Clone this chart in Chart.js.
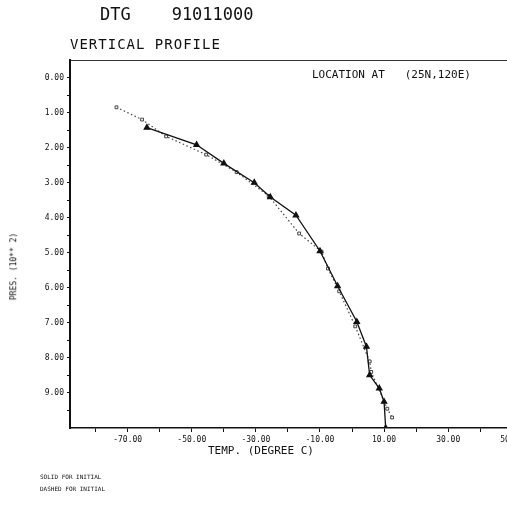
<!DOCTYPE html>
<html>
<head>
<meta charset="utf-8">
<script src="https://cdn.jsdelivr.net/npm/chart.js@4"></script>
<style>
  body { margin: 0; background: #fff; overflow: hidden; }
  #wrap { position: relative; width: 540px; height: 505px; }
  .txt { position: absolute; font-family: "DejaVu Sans Mono", monospace; color: #111; white-space: pre; }
</style>
</head>
<body>
<div id="wrap">
  <canvas id="profile" width="540" height="505"></canvas>
  <div class="txt" style="left:100px;top:4px;font-size:17px;">DTG    91011000</div>
  <div class="txt" style="left:70px;top:36px;font-size:14px;letter-spacing:1px;">VERTICAL PROFILE</div>
  <div class="txt" style="left:312px;top:68px;font-size:11px;">LOCATION AT   (25N,120E)</div>
  <div class="txt" style="left:208px;top:444px;font-size:11px;">TEMP. (DEGREE C)</div>
  <div class="txt" style="left:-20px;top:262px;font-size:8px;transform:rotate(-90deg);">PRES. (10** 2)</div>
  <div class="txt" style="left:40px;top:473px;font-size:6px;">SOLID FOR INITIAL</div>
  <div class="txt" style="left:40px;top:485px;font-size:6px;">DASHED FOR INITIAL</div>
</div>
<script>
// temperature (deg C) vs pressure (10**2 hPa)
var solidTemp = [-64, -48.5, -40, -30.5, -25.5, -17.5, -10, -4.5, 1.5, 4.5, 5.5, 8.5, 10, 10.5];
var solidPres = [1.43, 1.92, 2.45, 3.0, 3.41, 3.93, 4.95, 5.95, 6.97, 7.68, 8.49, 8.87, 9.25, 10.0];

var dashTemp = [-73.5, -65.5, -58, -45.5, -36, -26, -16.5, -9.5, -7.5, -4, 1, 5.5, 6, 11, 12.5];
var dashPres = [0.85, 1.2, 1.68, 2.2, 2.7, 3.38, 4.45, 4.97, 5.45, 6.1, 7.1, 8.1, 8.4, 9.45, 9.7];

var xTicks = [-80, -70, -60, -50, -40, -30, -20, -10, 0, 10, 20, 30, 40, 50];
var yTicks = [0, 0.5, 1, 1.5, 2, 2.5, 3, 3.5, 4, 4.5, 5, 5.5, 6, 6.5, 7, 7.5, 8, 8.5, 9, 9.5];

function pairs(xs, ys) {
  return xs.map(function (v, i) { return { x: v, y: ys[i] }; });
}

var tickFont = { family: "DejaVu Sans Mono", size: 8 };

new Chart(document.getElementById('profile'), {
  type: 'scatter',
  data: {
    datasets: [{
      data: pairs(solidTemp, solidPres),
      showLine: true,
      borderColor: '#111',
      backgroundColor: '#111',
      borderWidth: 1.3,
      pointStyle: 'triangle',
      pointRadius: 3
    }, {
      data: pairs(dashTemp, dashPres),
      showLine: true,
      borderColor: '#444',
      backgroundColor: '#fff',
      borderWidth: 1.2,
      borderDash: [1.5, 2.5],
      pointStyle: 'rect',
      pointRadius: 2,
      pointBorderWidth: 1
    }]
  },
  options: {
    responsive: false,
    animation: false,
    devicePixelRatio: 1,
    layout: { padding: { top: 60, right: 0, left: 0, bottom: 0 } },
    plugins: { legend: { display: false }, tooltip: { enabled: false } },
    scales: {
      x: {
        type: 'linear',
        min: -88,
        max: 57,
        afterBuildTicks: function (s) { s.ticks = xTicks.map(function (v) { return { value: v }; }); },
        afterFit: function (s) { s.height = 77; },
        ticks: {
          color: '#111', font: tickFont, maxRotation: 0, autoSkip: false,
          callback: function (v) { return Math.abs(v / 10) % 2 === 1 ? v.toFixed(2) : ''; }
        },
        grid: { drawOnChartArea: false, tickLength: 4, color: '#111' },
        border: { color: '#111', width: 1.5, dash: [8, 3] }
      },
      xTop: {
        type: 'linear',
        position: 'top',
        min: -88,
        max: 57,
        afterFit: function (s) { s.height = 0; },
        ticks: { display: false },
        grid: { display: false, drawTicks: false },
        border: { color: '#333', width: 1, dash: [5, 3] }
      },
      y: {
        type: 'linear',
        reverse: true,
        min: -0.5,
        max: 10,
        afterBuildTicks: function (s) { s.ticks = yTicks.map(function (v) { return { value: v }; }); },
        afterFit: function (s) { s.width = 70; },
        ticks: {
          color: '#111', font: tickFont, autoSkip: false, padding: 3,
          callback: function (v) { return Number.isInteger(v) ? v.toFixed(2) : ''; }
        },
        grid: { drawOnChartArea: false, tickLength: 3, color: '#111' },
        border: { color: '#111', width: 2 }
      }
    }
  }
});
</script>
</body>
</html>
